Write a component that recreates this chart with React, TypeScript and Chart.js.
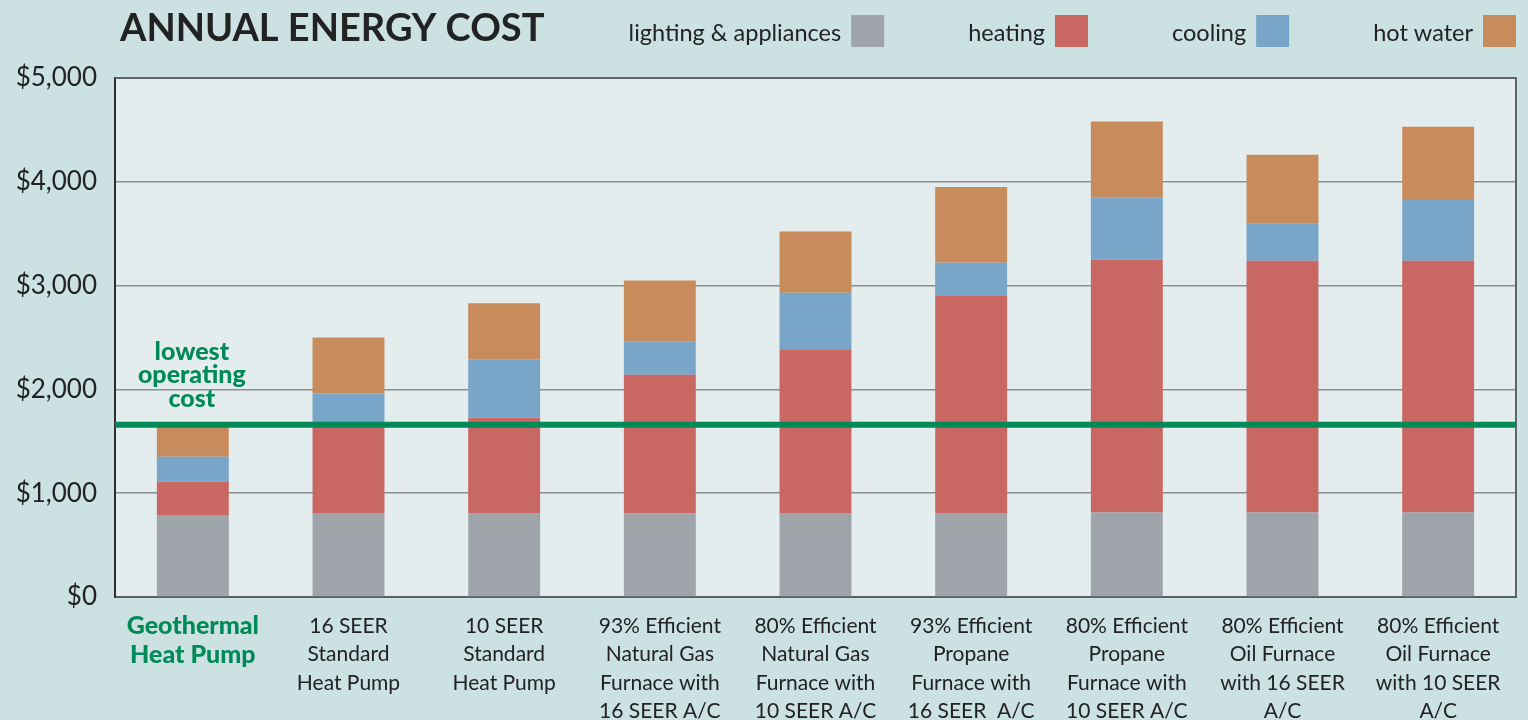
import React, { useEffect, useRef } from "react";
import { Chart, registerables } from "chart.js";

Chart.register(...registerables);

const titleText = "ANNUAL ENERGY COST";

const categories: string[][] = [
  ["Geothermal", "Heat Pump"],
  ["16 SEER", "Standard", "Heat Pump"],
  ["10 SEER", "Standard", "Heat Pump"],
  ["93% Efficient", "Natural Gas", "Furnace with", "16 SEER A/C"],
  ["80% Efficient", "Natural Gas", "Furnace with", "10 SEER A/C"],
  ["93% Efficient", "Propane", "Furnace with", "16 SEER  A/C"],
  ["80% Efficient", "Propane", "Furnace with", "10 SEER A/C"],
  ["80% Efficient", "Oil Furnace", "with 16 SEER", "A/C"],
  ["80% Efficient", "Oil Furnace", "with 10 SEER", "A/C"],
];

const seriesNames = ["lighting & appliances", "heating", "cooling", "hot water"];
const lightingAppliances = [790, 810, 810, 805, 810, 810, 815, 815, 815];
const heating = [320, 850, 920, 1335, 1570, 2090, 2435, 2425, 2425];
const cooling = [240, 300, 560, 320, 550, 320, 600, 360, 595];
const hotWater = [300, 540, 540, 590, 590, 730, 730, 660, 695];

const lowestCostValue = 1660;
const lowestCostLabel = ["lowest", "operating", "cost"];
const yTickValues = [0, 1000, 2000, 3000, 4000, 5000];

const COLORS = {
  outerBg: "#cbe1e2",
  plotBg: "#e3edee",
  gray: "#9fa3aa",
  red: "#c96762",
  blue: "#78a5c8",
  orange: "#c78b5c",
  green: "#008a57",
  grid: "#8a8f91",
  text: "#222222",
};

const FONT = "Lato, 'Open Sans', sans-serif";

const decorPlugin = {
  id: "decor",
  beforeDraw(chart: any) {
    const { ctx, chartArea } = chart;
    ctx.save();
    ctx.fillStyle = COLORS.outerBg;
    ctx.fillRect(0, 0, chart.width, chart.height);
    ctx.fillStyle = COLORS.plotBg;
    ctx.fillRect(chartArea.left, chartArea.top, chartArea.right - chartArea.left, chartArea.bottom - chartArea.top);
    ctx.restore();
  },
  afterDatasetsDraw(chart: any) {
    const { ctx, chartArea, scales } = chart;
    const y = scales.y.getPixelForValue(lowestCostValue);
    ctx.save();
    // frame top/right
    ctx.strokeStyle = "#5f6466";
    ctx.lineWidth = 2;
    ctx.beginPath();
    ctx.moveTo(chartArea.left, chartArea.top);
    ctx.lineTo(chartArea.right, chartArea.top);
    ctx.lineTo(chartArea.right, chartArea.bottom);
    ctx.stroke();
    // green line
    ctx.strokeStyle = COLORS.green;
    ctx.lineWidth = 6;
    ctx.beginPath();
    ctx.moveTo(chartArea.left, y);
    ctx.lineTo(chartArea.right, y);
    ctx.stroke();
    // annotation text
    ctx.fillStyle = COLORS.green;
    ctx.font = `900 25px ${FONT}`;
    ctx.textAlign = "center";
    ctx.textBaseline = "alphabetic";
    const cx = scales.x.getPixelForValue(0) - 1;
    const offsets = [-65, -42, -18];
    lowestCostLabel.forEach((line, i) => {
      ctx.fillText(line, cx, y + offsets[i]);
    });
    ctx.restore();
  },
  afterDraw(chart: any) {
    const { ctx, chartArea } = chart;
    ctx.save();
    // title
    ctx.fillStyle = COLORS.text;
    ctx.font = `bold 38px ${FONT}`;
    ctx.textAlign = "left";
    ctx.textBaseline = "alphabetic";
    ctx.fillText(titleText, 120, 41);
    // legend (text then swatch), right-aligned
    ctx.font = `23.5px ${FONT}`;
    const ds = chart.data.datasets;
    const box = 33;
    const gapText = 10;
    const gapItem = 84;
    let x = chartArea.right;
    for (let i = ds.length - 1; i >= 0; i--) {
      const label = ds[i].label as string;
      const w = ctx.measureText(label).width;
      ctx.fillStyle = ds[i].backgroundColor as string;
      ctx.fillRect(x - box, 15, box, 32);
      ctx.fillStyle = COLORS.text;
      ctx.textAlign = "right";
      ctx.fillText(label, x - box - gapText, 41);
      x = x - box - gapText - w - gapItem;
    }
    ctx.restore();
  },
};

export default function App() {
  const canvasRef = useRef<HTMLCanvasElement | null>(null);

  useEffect(() => {
    if (!canvasRef.current) return;
    const colors = [COLORS.gray, COLORS.red, COLORS.blue, COLORS.orange];
    const values = [lightingAppliances, heating, cooling, hotWater];
    const chart = new Chart(canvasRef.current, {
      type: "bar",
      data: {
        labels: categories,
        datasets: seriesNames.map((name, i) => ({
          label: name,
          data: values[i],
          backgroundColor: colors[i],
          borderWidth: 0,
          barPercentage: 0.462,
          categoryPercentage: 1,
        })),
      },
      options: {
        responsive: false,
        animation: false,
        layout: { padding: { top: 78, right: 12, left: 0, bottom: 0 } },
        plugins: {
          legend: { display: false },
          tooltip: { enabled: false },
          title: { display: false },
        },
        scales: {
          x: {
            stacked: true,
            grid: { display: false, drawTicks: false },
            border: { display: true, color: "#5a5f61", width: 2 },
            ticks: {
              autoSkip: false,
              maxRotation: 0,
              minRotation: 0,
              padding: 15,
              color: (c: any) => (c.index === 0 ? COLORS.green : COLORS.text),
              font: (c: any) =>
                c.index === 0
                  ? { family: FONT, size: 25, weight: "900", lineHeight: 1.14 }
                  : { family: FONT, size: 21, weight: "normal", lineHeight: 1.35 },
            },
            afterFit: (scale: any) => {
              scale.height = 123;
            },
          },
          y: {
            stacked: true,
            min: 0,
            max: 5000,
            afterBuildTicks: (scale: any) => {
              scale.ticks = yTickValues.map((v) => ({ value: v }));
            },
            grid: { color: COLORS.grid, lineWidth: 1.6, drawTicks: false },
            border: { display: true, color: "#2e2e2e", width: 2 },
            ticks: {
              padding: 18,
              color: COLORS.text,
              font: { family: FONT, size: 26 },
              callback: (v: any) => "$" + Number(v).toLocaleString("en-US"),
            },
            afterFit: (scale: any) => {
              scale.width = 115;
            },
          },
        },
      },
      plugins: [decorPlugin],
    } as any);
    return () => chart.destroy();
  }, []);

  return (
    <div style={{ position: "fixed", left: 0, top: 0, width: 1528, height: 720, background: COLORS.outerBg }}>
      <canvas ref={canvasRef} width={1528} height={720} style={{ display: "block" }} />
    </div>
  );
}
